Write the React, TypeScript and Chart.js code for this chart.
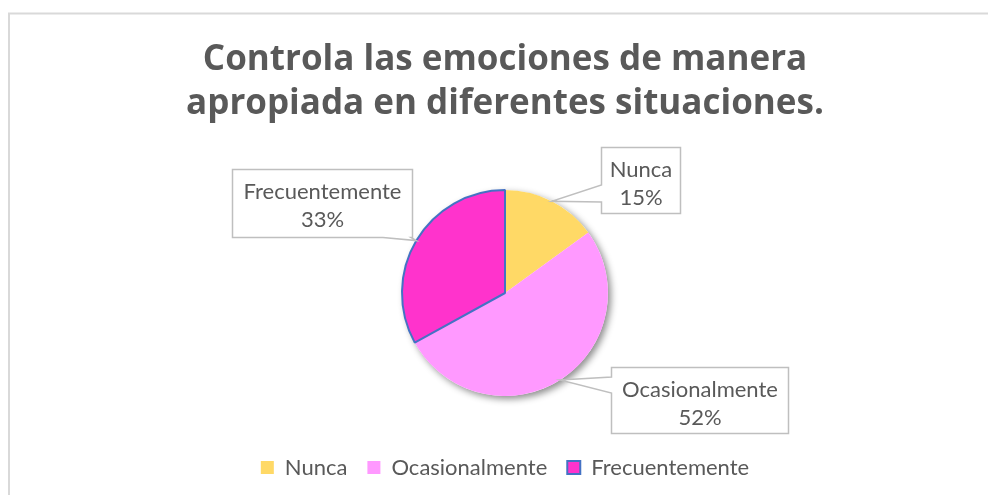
import { useEffect, useRef } from 'react';
import { Chart, registerables } from 'chart.js';

Chart.register(...registerables);

const TITLE_LINES = ['Controla las emociones de manera', 'apropiada en diferentes situaciones.'];
const categories = ['Nunca', 'Ocasionalmente', 'Frecuentemente'];
const values = [15, 52, 33];
const sliceColors = ['#FFD966', '#FF99FF', '#FF33CC'];
const sliceBorderColors = ['rgba(0,0,0,0)', 'rgba(0,0,0,0)', '#4472C4'];
const sliceBorderWidths = [0, 0, 2];

const FONT = 'Lato, "Open Sans", sans-serif';
const TITLE_FONT = '"Open Sans", Lato, sans-serif';
const TEXT = '#595959';

// callout box layout (pixels), one per slice, same order as categories
const calloutBoxes = [
  { x: 601.5, y: 147.5, w: 79, h: 66, side: 'left', a1: 185, a2: 202 },
  { x: 611.5, y: 367.5, w: 177, h: 66, side: 'left', a1: 377, a2: 393 },
  { x: 232.5, y: 169.5, w: 180, h: 68, side: 'bottom', a1: 383, a2: 411 },
];

const total = values.reduce((a, b) => a + b, 0);
const percentLabels = values.map((v) => Math.round((v / total) * 100) + '%');

const framePlugin = {
  id: 'frame',
  beforeDraw(chart: any) {
    const ctx = chart.ctx;
    ctx.save();
    ctx.fillStyle = '#ffffff';
    ctx.fillRect(0, 0, chart.width, chart.height);
    ctx.strokeStyle = '#D9D9D9';
    ctx.lineWidth = 2;
    ctx.strokeRect(9, 13.5, chart.width + 20, chart.height + 20);
    ctx.restore();
  },
};

const shadowPlugin = {
  id: 'pieShadow',
  beforeDatasetsDraw(chart: any) {
    const meta = chart.getDatasetMeta(0);
    const arc = meta.data[0];
    if (!arc) return;
    const { x, y, outerRadius } = arc.getProps(['x', 'y', 'outerRadius'], true);
    const ctx = chart.ctx;
    ctx.save();
    ctx.shadowColor = 'rgba(0,0,0,0.45)';
    ctx.shadowBlur = 7;
    ctx.shadowOffsetX = 3;
    ctx.shadowOffsetY = 3;
    ctx.fillStyle = '#ffffff';
    ctx.beginPath();
    ctx.arc(x, y, outerRadius, 0, Math.PI * 2);
    ctx.fill();
    ctx.restore();
  },
};

const calloutPlugin = {
  id: 'callouts',
  afterDatasetsDraw(chart: any) {
    const meta = chart.getDatasetMeta(0);
    const ctx = chart.ctx;
    meta.data.forEach((arc: any, i: number) => {
      const b = calloutBoxes[i];
      if (!b) return;
      const { x, y, startAngle, endAngle, outerRadius } = arc.getProps(
        ['x', 'y', 'startAngle', 'endAngle', 'outerRadius'],
        true
      );
      const mid = (startAngle + endAngle) / 2;
      const tx = x + Math.cos(mid) * outerRadius;
      const ty = y + Math.sin(mid) * outerRadius;
      ctx.save();
      ctx.beginPath();
      ctx.moveTo(b.x, b.y);
      ctx.lineTo(b.x + b.w, b.y);
      ctx.lineTo(b.x + b.w, b.y + b.h);
      if (b.side === 'bottom') {
        ctx.lineTo(b.a2, b.y + b.h);
        ctx.lineTo(tx, ty);
        ctx.lineTo(b.a1, b.y + b.h);
        ctx.lineTo(b.x, b.y + b.h);
        ctx.closePath();
      } else {
        ctx.lineTo(b.x, b.y + b.h);
        ctx.lineTo(b.x, b.a2);
        ctx.lineTo(tx, ty);
        ctx.lineTo(b.x, b.a1);
        ctx.closePath();
      }
      ctx.fillStyle = '#ffffff';
      ctx.fill();
      ctx.strokeStyle = '#BFBFBF';
      ctx.lineWidth = 1.5;
      ctx.lineJoin = 'miter';
      ctx.stroke();
      ctx.fillStyle = TEXT;
      ctx.font = `22px ${FONT}`;
      ctx.textAlign = 'center';
      ctx.textBaseline = 'alphabetic';
      const cx = b.x + b.w / 2;
      ctx.fillText(categories[i], cx, b.y + 29.5);
      ctx.fillText(percentLabels[i], cx, b.y + 57.5);
      ctx.restore();
    });
  },
};

export default function App() {
  const ref = useRef<HTMLCanvasElement | null>(null);
  useEffect(() => {
    if (!ref.current) return;
    const chart = new Chart(ref.current, {
      type: 'pie',
      data: {
        labels: categories,
        datasets: [
          {
            data: values,
            backgroundColor: sliceColors,
            borderColor: sliceBorderColors,
            borderWidth: sliceBorderWidths,
            radius: 103,
          },
        ],
      },
      options: {
        responsive: false,
        animation: false,
        events: [],
        layout: { padding: { left: 22, right: 0, top: 0, bottom: 6.5 } },
        plugins: {
          title: {
            display: true,
            text: TITLE_LINES,
            color: TEXT,
            font: { family: TITLE_FONT, size: 35, weight: 'bold', lineHeight: 44 / 35 },
            padding: { top: 38, bottom: 23.5 },
          },
          legend: {
            display: true,
            position: 'bottom',
            labels: {
              boxWidth: 13,
              boxHeight: 13,
              padding: 20,
              color: TEXT,
              font: { family: FONT, size: 22 },
            },
          },
          tooltip: { enabled: false },
        },
      },
      plugins: [framePlugin, shadowPlugin, calloutPlugin],
    });
    return () => chart.destroy();
  }, []);
  return (
    <canvas
      ref={ref}
      width={988}
      height={495}
      style={{ position: 'absolute', left: 0, top: 0, display: 'block' }}
    />
  );
}
